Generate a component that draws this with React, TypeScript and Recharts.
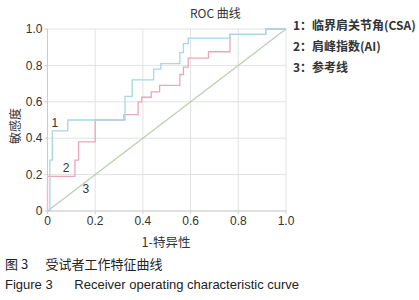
import React from 'react';
import { LineChart, Line, XAxis, YAxis, CartesianGrid, ReferenceDot } from 'recharts';

// ROC 曲线：每个点为台阶的拐角（1-特异性, 敏感度）
const csaFpr = [0, 0.01, 0.02, 0.085, 0.325, 0.355, 0.445, 0.475, 0.555, 0.57, 0.59, 0.765, 0.915, 1];
const csaTpr = [0, 0.28, 0.44, 0.5, 0.63, 0.72, 0.78, 0.81, 0.87, 0.92, 0.95, 0.97, 1, 1];

const aiFpr = [0, 0, 0.115, 0.13, 0.2, 0.32, 0.38, 0.395, 0.435, 0.47, 0.555, 0.57, 0.59, 0.675, 0.765, 0.915, 1];
const aiTpr = [0, 0.19, 0.28, 0.38, 0.5, 0.53, 0.6, 0.625, 0.655, 0.69, 0.75, 0.79, 0.84, 0.875, 0.97, 1, 1];

const refFpr = [0, 1];
const refTpr = [0, 1];

const ticks = [0, 0.2, 0.4, 0.6, 0.8, 1.0];

const legendItems = ['1：临界肩关节角(CSA)', '2：肩峰指数(AI)', '3：参考线'];

const toPoints = (xs: number[], ys: number[]) => xs.map((x, i) => ({ x, y: ys[i] }));

const csaData = toPoints(csaFpr, csaTpr);
const aiData = toPoints(aiFpr, aiTpr);
const refData = toPoints(refFpr, refTpr);

const fmt = (v: number) => (v === 0 ? '0' : v.toFixed(1));

const sans = '"Liberation Sans", Arial, "Noto Sans CJK SC", sans-serif';
const cjk = '"Noto Sans CJK SC", "Liberation Sans", sans-serif';

export default function App() {
    const tickStyle = { fontSize: 12, fill: '#333', fontFamily: sans };
    const curveLabel = (v: string) => ({ value: v, position: 'center' as const, fontSize: 12, fill: '#333', fontFamily: sans });
    return (
        <div style={{ position: 'absolute', left: 0, top: 0, width: 419, height: 300, background: '#fff', overflow: 'hidden' }}>
            <LineChart
                width={300}
                height={240}
                margin={{ top: 29, right: 14, bottom: 9, left: 7.5 }}
                style={{ position: 'absolute', left: 0, top: 0 }}
            >
                <CartesianGrid stroke="#e2e2e2" strokeWidth={1} />
                <XAxis
                    type="number"
                    dataKey="x"
                    domain={[0, 1]}
                    ticks={ticks}
                    tickFormatter={fmt}
                    tick={tickStyle}
                    tickSize={3}
                    tickMargin={2}
                    height={20}
                    stroke="#cfcfcf"
                    allowDuplicatedCategory={false}
                />
                <YAxis
                    type="number"
                    dataKey="y"
                    domain={[0, 1]}
                    ticks={ticks}
                    tickFormatter={fmt}
                    tick={tickStyle}
                    tickSize={3}
                    tickMargin={2}
                    width={40}
                    stroke="#d9c6cc"
                />
                <Line data={refData} dataKey="y" type="linear" stroke="#bccfb4" strokeWidth={1.3} dot={false} isAnimationActive={false} />
                <Line data={aiData} dataKey="y" type="stepAfter" stroke="#eba7b8" strokeWidth={1.3} dot={false} isAnimationActive={false} />
                <Line data={csaData} dataKey="y" type="stepAfter" stroke="#a6d6e8" strokeWidth={1.3} dot={false} isAnimationActive={false} />
                <ReferenceDot x={0.031} y={0.485} r={0} stroke="none" label={curveLabel('1')} />
                <ReferenceDot x={0.078} y={0.236} r={0} stroke="none" label={curveLabel('2')} />
                <ReferenceDot x={0.161} y={0.12} r={0} stroke="none" label={curveLabel('3')} />
            </LineChart>

            <div style={{ position: 'absolute', left: 190, top: 5, fontSize: 12, color: '#333', fontFamily: cjk, lineHeight: '16px', whiteSpace: 'nowrap' }}>
                ROC 曲线
            </div>
            <div style={{ position: 'absolute', left: 7, top: 126, transform: 'translate(-50%, -50%) rotate(-90deg)', transformOrigin: 'center', fontSize: 12, color: '#333', fontFamily: cjk, whiteSpace: 'nowrap', marginLeft: 8, lineHeight: '14px' }}>
                敏感度
            </div>
            <div style={{ position: 'absolute', left: 166, top: 242, transform: 'translate(-50%, -50%)', fontSize: 12.5, color: '#333', fontFamily: cjk, whiteSpace: 'nowrap', lineHeight: '14px' }}>
                1-特异性
            </div>

            {legendItems.map((t, i) => (
                <div
                    key={t}
                    style={{ position: 'absolute', left: 293, top: 17 + i * 21, fontSize: 12, fontWeight: 700, color: '#333', fontFamily: cjk, whiteSpace: 'nowrap', lineHeight: '16px' }}
                >
                    {t}
                </div>
            ))}

            <div style={{ position: 'absolute', left: 5, top: 256, fontSize: 13, color: '#222', fontFamily: cjk, whiteSpace: 'pre', lineHeight: '16px' }}>
                {'图 3      受试者工作特征曲线'}
            </div>
            <div style={{ position: 'absolute', left: 5, top: 277, fontSize: 13, color: '#222', fontFamily: sans, whiteSpace: 'pre', lineHeight: '16px' }}>
                {'Figure 3      Receiver operating characteristic curve'}
            </div>
        </div>
    );
}
